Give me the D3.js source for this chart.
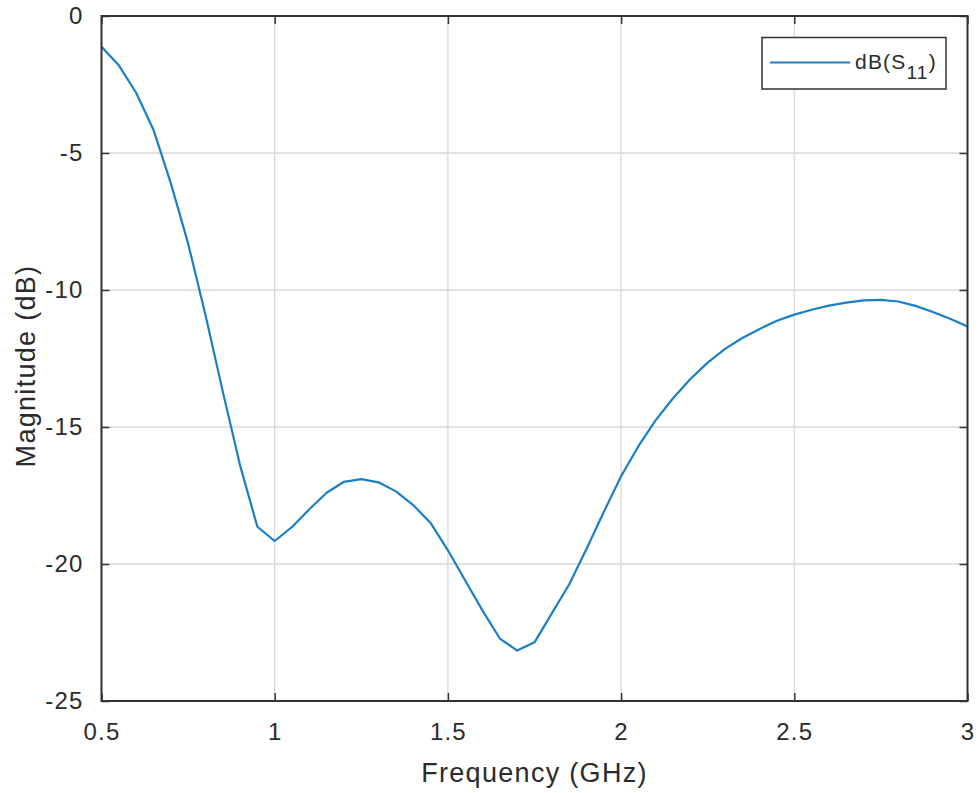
<!DOCTYPE html>
<html>
<head>
<meta charset="utf-8">
<script src="https://cdn.jsdelivr.net/npm/d3@7"></script>
<style>
  body { margin: 0; background: #fff; }
  svg { display: block; }
  text { font-family: "Liberation Sans", Arial, Helvetica, sans-serif; fill: #2b2b2b; }
</style>
</head>
<body>
<svg id="chart" width="980" height="793"></svg>
<script>
const freqGHz = [0.5,0.55,0.6,0.65,0.7,0.75,0.8,0.85,0.9,0.95,
  1.0,1.05,1.1,1.15,1.2,1.25,1.3,1.35,1.4,1.45,
  1.5,1.55,1.6,1.65,1.7,1.75,1.8,1.85,1.9,1.95,
  2.0,2.05,2.1,2.15,2.2,2.25,2.3,2.35,2.4,2.45,
  2.5,2.55,2.6,2.65,2.7,2.75,2.8,2.85,2.9,2.95,3.0];
const s11dB = [-1.12,-1.8,-2.8,-4.15,-6.1,-8.3,-10.9,-13.7,-16.4,-18.64,
  -19.16,-18.65,-18.0,-17.4,-17.0,-16.9,-17.02,-17.35,-17.85,-18.5,
  -19.5,-20.6,-21.7,-22.72,-23.16,-22.86,-21.8,-20.75,-19.45,-18.1,
  -16.8,-15.7,-14.75,-13.95,-13.25,-12.65,-12.15,-11.75,-11.42,-11.12,
  -10.9,-10.72,-10.57,-10.46,-10.38,-10.36,-10.42,-10.58,-10.8,-11.05,-11.33];
const xTicks = [0.5,1,1.5,2,2.5,3];
const xTickLabels = ["0.5","1","1.5","2","2.5","3"];
const yTicks = [0,-5,-10,-15,-20,-25];
const yTickLabels = ["0","-5","-10","-15","-20","-25"];
const xLabel = "Frequency (GHz)";
const yLabel = "Magnitude (dB)";
const seriesName = "dB(S";
const seriesSub = "11";

const L = 101.5, R = 967.5, T = 16, B = 701;
const svg = d3.select("#chart");
const x = d3.scaleLinear().domain([0.5, 3]).range([L, R]);
const y = d3.scaleLinear().domain([-25, 0]).range([B, T]);
const axisColor = "#333333";
const lineColor = "#1a7fc7";
const tickLen = 8;

// grid
const grid = svg.append("g");
grid.selectAll("line.gx").data(xTicks).join("line")
  .attr("x1", d => x(d)).attr("x2", d => x(d)).attr("y1", T).attr("y2", B)
  .attr("stroke", "#d9d9d9").attr("stroke-width", 1.3);
grid.selectAll("line.gy").data(yTicks).join("line")
  .attr("x1", L).attr("x2", R).attr("y1", d => y(d)).attr("y2", d => y(d))
  .attr("stroke", "#d9d9d9").attr("stroke-width", 1.3);

// data line
const line = d3.line().x((d, i) => x(freqGHz[i])).y(d => y(d));
svg.append("path").datum(s11dB)
  .attr("d", line).attr("fill", "none")
  .attr("stroke", lineColor).attr("stroke-width", 2.2).attr("stroke-linejoin", "round");

// axes with inward ticks
const fmtX = (d) => xTickLabels[xTicks.indexOf(d)];
const fmtY = (d) => yTickLabels[yTicks.indexOf(d)];
const styleAxis = g => {
  g.select(".domain").remove();
  g.selectAll(".tick line").attr("stroke", axisColor).attr("stroke-width", 1.5);
  g.selectAll(".tick text").attr("fill", "#2b2b2b").style("font-size", "24px")
    .style("letter-spacing", "1.2px")
    .style("font-family", '"Liberation Sans", Arial, sans-serif');
};
svg.append("g").attr("transform", `translate(0,${B})`)
  .call(d3.axisBottom(x).tickValues(xTicks).tickFormat(fmtX).tickSizeInner(-tickLen).tickSizeOuter(0).tickPadding(tickLen + 14))
  .call(styleAxis);
svg.append("g").attr("transform", `translate(0,${T})`)
  .call(d3.axisTop(x).tickValues(xTicks).tickFormat("").tickSizeInner(-tickLen).tickSizeOuter(0))
  .call(styleAxis);
svg.append("g").attr("transform", `translate(${L},0)`)
  .call(d3.axisLeft(y).tickValues(yTicks).tickFormat(fmtY).tickSizeInner(-tickLen).tickSizeOuter(0).tickPadding(tickLen + 10))
  .call(styleAxis);
svg.append("g").attr("transform", `translate(${R},0)`)
  .call(d3.axisRight(y).tickValues(yTicks).tickFormat("").tickSizeInner(-tickLen).tickSizeOuter(0))
  .call(styleAxis);

// box
svg.append("rect").attr("x", L).attr("y", T).attr("width", R - L).attr("height", B - T)
  .attr("fill", "none").attr("stroke", axisColor).attr("stroke-width", 2);

// labels
svg.append("text").attr("x", (L + R) / 2).attr("y", 782).attr("text-anchor", "middle")
  .style("font-size", "27px").style("letter-spacing", "1.3px").text(xLabel);
svg.append("text").attr("transform", `translate(35,366) rotate(-90)`)
  .attr("text-anchor", "middle").style("font-size", "27px").style("letter-spacing", "1.3px").text(yLabel);

// legend
const lg = svg.append("g");
lg.append("rect").attr("x", 762).attr("y", 37.5).attr("width", 184).attr("height", 51.5)
  .attr("fill", "#fff").attr("stroke", axisColor).attr("stroke-width", 1.5);
lg.append("line").attr("x1", 770).attr("x2", 850).attr("y1", 62.5).attr("y2", 62.5)
  .attr("stroke", lineColor).attr("stroke-width", 2.2);
const lt = lg.append("text").attr("x", 855).attr("y", 69).style("font-size", "21px").style("letter-spacing", "1.2px");
lt.append("tspan").text(seriesName);
lt.append("tspan").attr("dy", 10).style("font-size", "19px").text(seriesSub);
lt.append("tspan").attr("dy", -10).text(")");
</script>
</body>
</html>
